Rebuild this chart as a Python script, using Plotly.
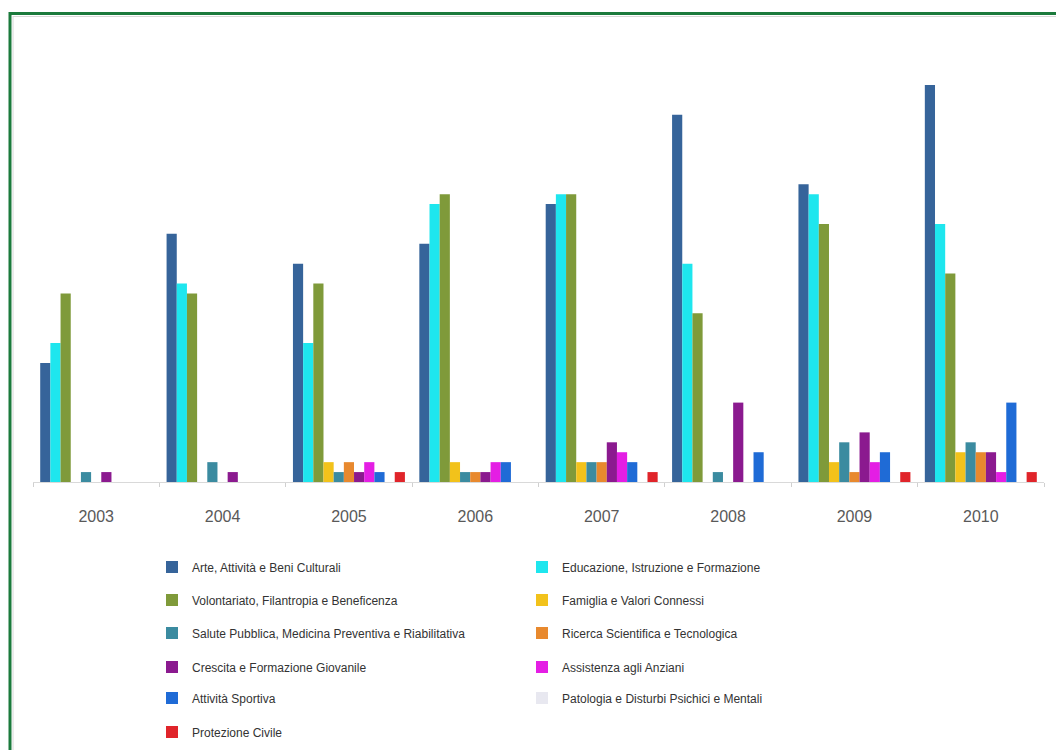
import plotly.graph_objects as go

years = ["2003", "2004", "2005", "2006", "2007", "2008", "2009", "2010"]

series_names = [
    "Arte, Attività e Beni Culturali",
    "Educazione, Istruzione e Formazione",
    "Volontariato, Filantropia e Beneficenza",
    "Famiglia e Valori Connessi",
    "Salute Pubblica, Medicina Preventiva e Riabilitativa",
    "Ricerca Scientifica e Tecnologica",
    "Crescita e Formazione Giovanile",
    "Assistenza agli Anziani",
    "Attività Sportiva",
    "Patologia e Disturbi Psichici e Mentali",
    "Protezione Civile",
]

arte = [12, 25, 22, 24, 28, 37, 30, 40]
educazione = [14, 20, 14, 28, 29, 22, 29, 26]
volontariato = [19, 19, 20, 29, 29, 17, 26, 21]
famiglia = [0, 0, 2, 2, 2, 0, 2, 3]
salute = [1, 2, 1, 1, 2, 1, 4, 4]
ricerca = [0, 0, 2, 1, 2, 0, 1, 3]
crescita = [1, 1, 1, 1, 4, 8, 5, 3]
assistenza = [0, 0, 2, 2, 3, 0, 2, 1]
sportiva = [0, 0, 1, 2, 2, 3, 3, 8]
patologia = [0, 0, 0, 0, 0, 0, 0, 0]
protezione = [0, 0, 1, 0, 1, 0, 1, 1]

all_values = [arte, educazione, volontariato, famiglia, salute, ricerca,
              crescita, assistenza, sportiva, patologia, protezione]

colors = ["#36649A", "#1EE6EE", "#7F9A3A", "#F2C21B", "#3B8BA0", "#E8892E",
          "#8B1A8F", "#E41EE4", "#1F6BD6", "#E8E8F0", "#E0242A"]

W, H = 1056, 750
ML, MR, MT, MB = 33, 12, 85, 268
PW = W - ML - MR
PH = H - MT - MB


def px_x(x):
    return (x - ML) / PW


def px_y(y):
    return (H - MB - y) / PH


fig = go.Figure()
legend_ids = ["legend", "legend2", "legend3", "legend4", "legend5", "legend6"]
for i, (name, vals, col) in enumerate(zip(series_names, all_values, colors)):
    fig.add_trace(go.Bar(
        name=name, x=years, y=vals,
        marker=dict(color=col, line=dict(width=0)),
        legend=legend_ids[i // 2],
    ))

row_y = [567, 600, 633, 667, 698, 732]
legend_common = dict(
    orientation="h", xanchor="left", yanchor="middle",
    entrywidth=325, entrywidthmode="pixels",
    font=dict(family="Liberation Sans, Arial, sans-serif", size=12, color="#333333"),
    bgcolor="rgba(0,0,0,0)", itemclick=False, itemdoubleclick=False,
)
legend_layout = {}
for lid, ry in zip(legend_ids, row_y):
    legend_layout[lid] = dict(legend_common, x=px_x(152), y=px_y(ry))

fig.update_layout(
    width=W, height=H,
    margin=dict(l=ML, r=MR, t=MT, b=MB, autoexpand=False),
    paper_bgcolor="white", plot_bgcolor="white",
    barmode="group", bargap=0.114, bargroupgap=0,
    showlegend=True,
    xaxis=dict(
        type="category", showgrid=False, showline=True, linecolor="#D9D9D9", linewidth=1,
        ticks="outside", tickson="boundaries", ticklen=4, tickcolor="#D0D0D0",
        tickfont=dict(family="Liberation Sans, Arial, sans-serif", size=16, color="#595959"),
        ticklabelstandoff=20, automargin=False,
    ),
    yaxis=dict(range=[0, 40], showgrid=False, showline=False, showticklabels=False,
               zeroline=False, ticks="", automargin=False),
    **legend_layout,
)

# green frame (top and left edges) with faint inner shadow
fig.add_shape(type="line", xref="paper", yref="paper",
              x0=px_x(10), x1=px_x(1070), y0=px_y(13.5), y1=px_y(13.5),
              line=dict(color="#1B7A3C", width=3))
fig.add_shape(type="line", xref="paper", yref="paper",
              x0=px_x(10), x1=px_x(10), y0=px_y(12), y1=px_y(770),
              line=dict(color="#1B7A3C", width=3))
fig.add_shape(type="line", xref="paper", yref="paper",
              x0=px_x(13), x1=px_x(1070), y0=px_y(16.5), y1=px_y(16.5),
              line=dict(color="#D8D8D8", width=1))
fig.add_shape(type="line", xref="paper", yref="paper",
              x0=px_x(13), x1=px_x(13), y0=px_y(16), y1=px_y(770),
              line=dict(color="#D8D8D8", width=1))

fig.write_html("out.html")
